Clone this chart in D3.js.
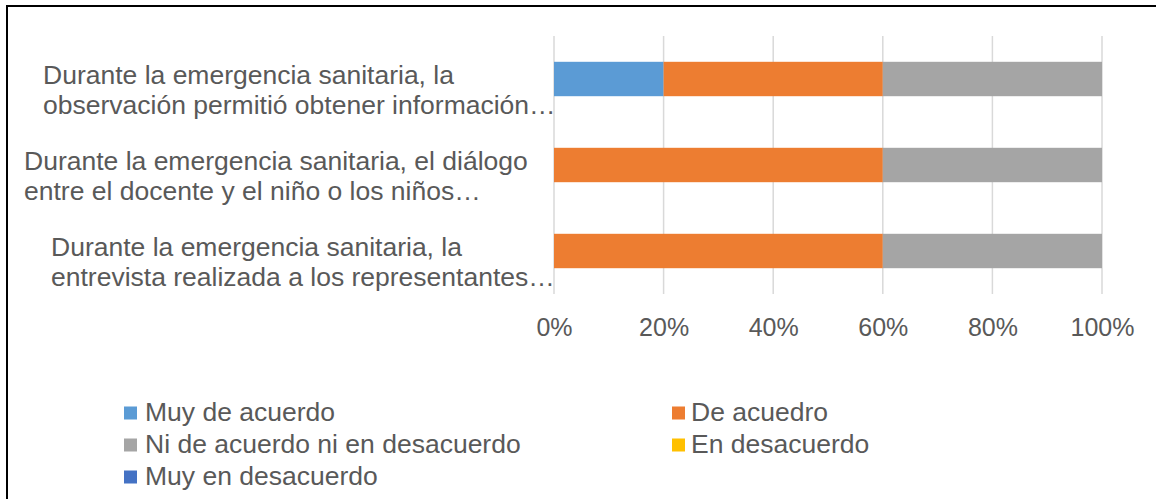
<!DOCTYPE html>
<html>
<head>
<meta charset="utf-8">
<script src="https://cdn.jsdelivr.net/npm/d3@7/dist/d3.min.js"></script>
<style>
  html, body { margin: 0; padding: 0; background: #fff; }
  svg { display: block; font-family: "Liberation Sans", Arial, sans-serif; }
</style>
</head>
<body>
<svg id="chart" width="1156" height="499"></svg>
<script>
// ---- data ----
const categories = [
  ["Durante la emergencia sanitaria, la", "observación permitió obtener información…"],
  ["Durante la emergencia sanitaria, el diálogo", "entre el docente y el niño o los niños…"],
  ["Durante la emergencia sanitaria, la", "entrevista realizada a los representantes…"]
];
const seriesNames = ["Muy de acuerdo", "De acuedro", "Ni de acuerdo ni en desacuerdo", "En desacuerdo", "Muy en desacuerdo"];
const muyDeAcuerdo      = [20, 0, 0];
const deAcuerdo         = [40, 60, 60];
const niNi              = [40, 40, 40];
const enDesacuerdo      = [0, 0, 0];
const muyEnDesacuerdo   = [0, 0, 0];
const tickValues = [0, 20, 40, 60, 80, 100];
const tickLabels = ["0%", "20%", "40%", "60%", "80%", "100%"];

// ---- layout / style ----
const colors = ["#5B9BD5", "#ED7D31", "#A5A5A5", "#FFC000", "#4472C4"];
const labelLeft = [43, 24, 51];
const textColor = "#595959";
const labelFont = "26.5px";

const svg = d3.select("#chart");

// frame (top and left edges visible)
svg.append("line").attr("x1", 6).attr("x2", 1156).attr("y1", 6).attr("y2", 6)
  .attr("stroke", "#000").attr("stroke-width", 2);
svg.append("line").attr("x1", 7).attr("x2", 7).attr("y1", 5).attr("y2", 499)
  .attr("stroke", "#000").attr("stroke-width", 2);

const x = d3.scaleLinear().domain([0, 100]).range([554, 1102]);
const y = d3.scaleBand().domain(d3.range(categories.length)).range([36, 294])
  .paddingInner(0.6).paddingOuter(0.3);

// gridlines
svg.append("g").selectAll("line").data(tickValues).join("line")
  .attr("x1", d => x(d)).attr("x2", d => x(d))
  .attr("y1", 36).attr("y2", 294)
  .attr("stroke", "#D9D9D9").attr("stroke-width", 1.5);

// stacked data
const seriesArrays = [muyDeAcuerdo, deAcuerdo, niNi, enDesacuerdo, muyEnDesacuerdo];
const table = categories.map((c, i) => {
  const o = { idx: i };
  seriesNames.forEach((s, k) => o[s] = seriesArrays[k][i]);
  return o;
});
const stack = d3.stack().keys(seriesNames)(table);

svg.append("g").selectAll("g").data(stack).join("g")
  .attr("fill", (d, k) => colors[k])
  .selectAll("rect").data(d => d).join("rect")
  .attr("x", d => x(d[0]))
  .attr("width", d => x(d[1]) - x(d[0]))
  .attr("y", d => y(d.data.idx))
  .attr("height", y.bandwidth());

// x axis tick labels
const xAxis = d3.axisBottom(x).tickValues(tickValues)
  .tickFormat((d, i) => tickLabels[i]).tickSize(0).tickPadding(0);
const ax = svg.append("g").attr("transform", "translate(0,336)").call(xAxis);
ax.select(".domain").remove();
ax.selectAll("text").attr("dy", 0).attr("fill", textColor)
  .style("font-size", "25px").style("font-family", '"Liberation Sans", Arial, sans-serif');

// category labels
categories.forEach((lines, i) => {
  const cy = y(i) + y.bandwidth() / 2;
  const t = svg.append("text").attr("fill", textColor).style("font-size", labelFont);
  lines.forEach((ln, j) => {
    t.append("tspan").attr("x", labelLeft[i]).attr("y", cy + 5 + j * 29.5).text(ln);
  });
});

// legend
const legendPos = [
  { sx: 124, tx: 145, cy: 413 },
  { sx: 672, tx: 691, cy: 413 },
  { sx: 124, tx: 145, cy: 445 },
  { sx: 672, tx: 691, cy: 445 },
  { sx: 124, tx: 145, cy: 477 }
];
const lg = svg.append("g").selectAll("g").data(seriesNames).join("g");
lg.append("rect")
  .attr("x", (d, i) => legendPos[i].sx).attr("y", (d, i) => legendPos[i].cy - 6.5)
  .attr("width", 13).attr("height", 13).attr("fill", (d, i) => colors[i]);
lg.append("text")
  .attr("x", (d, i) => legendPos[i].tx).attr("y", (d, i) => legendPos[i].cy + 8)
  .attr("fill", textColor).style("font-size", labelFont).text(d => d);
</script>
</body>
</html>
